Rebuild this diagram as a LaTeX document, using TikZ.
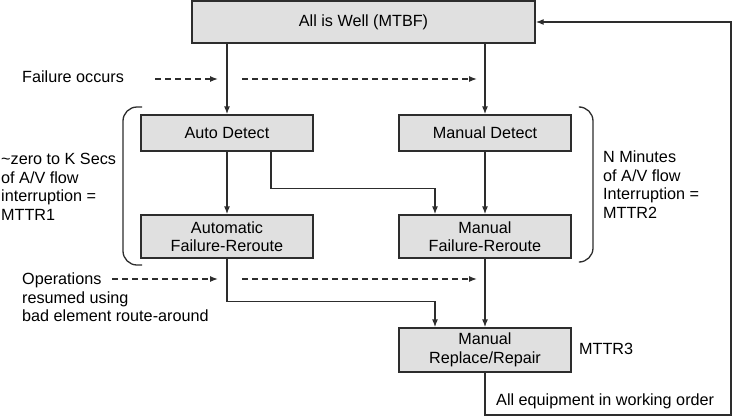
\documentclass[tikz,border=0pt]{standalone}
\usepackage{fontspec}
\setmainfont{Liberation Sans}
\usetikzlibrary{arrows.meta}

\definecolor{boxgray}{RGB}{224,224,224}
\definecolor{linegray}{RGB}{45,45,45}

\begin{document}
\begin{tikzpicture}[x=1pt, y=-1pt,
    every node/.style={font=\fontsize{16.2}{18.5}\selectfont},
    stagebox/.style={draw=linegray, fill=boxgray, line width=1.3pt,
      minimum width=172pt, align=center, inner sep=0pt},
    arr/.style={draw=linegray, line width=1.3pt,
      -{Latex[length=8pt, width=6pt]}},
    dasharr/.style={arr, dash pattern=on 6pt off 4pt},
    note/.style={anchor=north west, inner sep=0pt, align=left}]

  \useasboundingbox (0,0) rectangle (732,416);

  % boxes of the recovery flow
  \node[stagebox, minimum width=343pt, minimum height=42pt] (well) at (363.5,22) {All is Well (MTBF)};
  \node[stagebox, minimum height=36pt] (autodet) at (227,133) {Auto Detect};
  \node[stagebox, minimum height=36pt] (mandet) at (485,133) {Manual Detect};
  \node[stagebox, minimum height=43pt] (autoreroute) at (227,236.5) {Automatic\\Failure-Reroute};
  \node[stagebox, minimum height=43pt] (manreroute) at (485,236.5) {Manual\\Failure-Reroute};
  \node[stagebox, minimum height=44pt] (repair) at (485,350) {Manual\\Replace/Repair};

  % solid connectors
  \draw[arr] (well.south -| autodet.north) -- (autodet.north);
  \draw[arr] (well.south -| mandet.north) -- (mandet.north);
  \draw[arr] (autodet) -- (autoreroute);
  \draw[arr] (mandet) -- (manreroute);
  \draw[arr] ([xshift=44pt]autodet.south) -- ++(0,37) -| ([xshift=-50pt]manreroute.north);
  \draw[arr] (manreroute) -- (repair);
  \draw[arr] (autoreroute.south) -- ++(0,43) -| ([xshift=-50pt]repair.north);

  % back to the top once repaired
  \coordinate (loopcorner) at (731,415);
  \draw[arr] (repair.south) |- (loopcorner) |- (well.east);

  % event labels with dashed pointers
  \node[note] (failtxt) at (22,71) {Failure occurs};
  \coordinate (f1) at (155,79);
  \coordinate (f2) at (218,79);
  \coordinate (f3) at (242,79);
  \coordinate (f4) at (477,79);
  \draw[dasharr] (f1) -- (f2);
  \draw[dasharr] (f3) -- (f4);

  \node[note] (opstxt) at (22,273) {Operations\\resumed using\\bad element route-around};
  \coordinate (o1) at (112,279);
  \coordinate (o2) at (218,279);
  \coordinate (o3) at (242,279);
  \coordinate (o4) at (477,279);
  \draw[dasharr] (o1) -- (o2);
  \draw[dasharr] (o3) -- (o4);

  % brackets round the detect/reroute stages
  \draw[linegray, line width=1.3pt, rounded corners=14pt]
    (142,107) -- (123,107) -- (123,265) -- (142,265);
  \draw[linegray, line width=1.3pt, rounded corners=14pt]
    (581,107) -- (593,107) -- (593,262) -- (581,262);

  % outage notes
  \node[note] (mttr1) at (1,153) {\textasciitilde zero to K Secs\\of A/V flow\\interruption =\\MTTR1};
  \node[note] (mttr2) at (603,151) {N Minutes\\of A/V flow\\Interruption =\\MTTR2};
  \node[note] (mttr3) at (579,343) {MTTR3};
  \node[note] (worktxt) at (496,394) {All equipment in working order};

\end{tikzpicture}
\end{document}
